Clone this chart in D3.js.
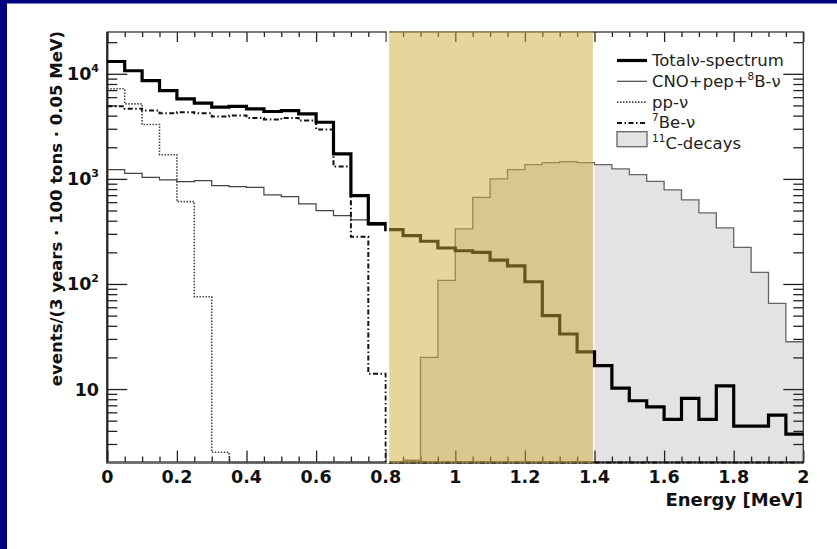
<!DOCTYPE html>
<html>
<head>
<meta charset="utf-8">
<script src="https://cdn.jsdelivr.net/npm/d3@7"></script>
<style>
  body { margin: 0; background: #fff; }
  svg { display: block; }
</style>
</head>
<body>
<div id="chart"></div>
<script>
// 40 bins of 0.05 MeV, 0 .. 2 MeV
const binWidth = 0.05;
const totalSpectrum = [13100, 10700, 8630, 6930, 5780, 5250, 4810, 4900, 4640, 4380,
                       4470, 4160, 3460, 1730, 693, 375, 329, 288, 255, 220,
                       207, 200, 169, 149, 105, 49.9, 33.4, 22.6, 16.7, 10.2,
                       7.74, 6.78, 5.14, 8.15, 5.14, 10.7, 4.44, 4.44, 5.65, 3.72];
const cnoPepB8 = [1227, 1130, 1035, 977, 942, 963, 863, 845, 832, 704,
                  678, 578, 499, 447, 407, 362, 329, 288, 255, 220,
                  207, 200, 169, 149, 105, 49.9, 33.4, 22.6, 16.7, 10.2,
                  7.74, 6.78, 5.14, 8.15, 5.14, 10.7, 4.44, 4.44, 5.65, 3.72];
const ppNu = [7200, 5180, 3290, 1700, 608, 75.7, 2.5, 0, 0, 0,
              0, 0, 0, 0, 0, 0, 0, 0, 0, 0,
              0, 0, 0, 0, 0, 0, 0, 0, 0, 0,
              0, 0, 0, 0, 0, 0, 0, 0, 0, 0];
const be7Nu = [4910, 4640, 4470, 4210, 4310, 4210, 3920, 4010, 3800, 3670,
               3800, 3590, 2950, 1310, 282, 14, 0, 0, 0, 0,
               0, 0, 0, 0, 0, 0, 0, 0, 0, 0,
               0, 0, 0, 0, 0, 0, 0, 0, 0, 0];
const c11Decays = [0, 0, 0, 0, 0, 0, 0, 0, 0, 0,
                   0, 0, 0, 0, 0, 0, 0, 2.1, 20, 108,
                   334, 668, 1000, 1227, 1370, 1430, 1460, 1430, 1370, 1245,
                   1100, 949, 785, 631, 475, 342, 223, 129, 65.3, 28.2];

const xTicks = [0, 0.2, 0.4, 0.6, 0.8, 1, 1.2, 1.4, 1.6, 1.8, 2];
const xTickLabels = ["0", "0.2", "0.4", "0.6", "0.8", "1", "1.2", "1.4", "1.6", "1.8", "2"];
const yTicks = [10, 100, 1000, 10000];
const yTickBase = ["10", "10", "10", "10"];
const yTickExp = ["", "2", "3", "4"];
const legendNames = [
  [["Totalν-spectrum", ""]],
  [["CNO+pep+", ""], ["8", "sup"], ["B-ν", ""]],
  [["pp-ν", ""]],
  [["7", "sup"], ["Be-ν", ""]],
  [["11", "sup"], ["C-decays", ""]]
];
const windowRange = [0.81, 1.4];   // shaded energy window

const width = 837, height = 549;
const plotLeft = 107.3, plotRight = 803.3, plotTop = 32, plotBottom = 462.5;

const svg = d3.select("#chart").append("svg")
    .attr("width", width)
    .attr("height", height);

svg.append("rect").attr("width", width).attr("height", height).attr("fill", "#fff");
svg.append("rect").attr("width", 7).attr("height", height).attr("fill", "#000080");
svg.append("rect").attr("width", width).attr("height", 3.5).attr("fill", "#000080");

const x = d3.scaleLinear().domain([0, 2]).range([plotLeft, plotRight]);
const y = d3.scaleLog().domain([2, 25000]).range([plotBottom, plotTop]);
const yv = v => y(Math.max(v, 2));

// step outline of a histogram
function stepPoints(vals) {
  const pts = [];
  vals.forEach((v, i) => {
    pts.push([x(i * binWidth), yv(v)]);
    pts.push([x((i + 1) * binWidth), yv(v)]);
  });
  return pts;
}
const line = d3.line();

// 11C filled area
const c11Pts = stepPoints(c11Decays);
svg.append("path")
    .attr("d", line([[x(0), plotBottom], ...c11Pts, [x(2), plotBottom]]) + "Z")
    .attr("fill", "#e3e3e3")
    .attr("stroke", "none");

// thin white line at the window edge
svg.append("line")
    .attr("x1", x(windowRange[1]) - 0.8).attr("x2", x(windowRange[1]) - 0.8)
    .attr("y1", plotTop).attr("y2", plotBottom)
    .attr("stroke", "#fff").attr("stroke-width", 1.5);

// axes ticks (no labels)
const xMinor = d3.range(0, 2.0001, 0.05).filter(v => Math.abs(v / 0.2 - Math.round(v / 0.2)) > 1e-6);
const yMinor = [];
[1, 10, 100, 1000, 10000].forEach(d => d3.range(2, 10).forEach(m => {
  const v = m * d;
  if (v > 2 && v < 25000 && !yTicks.includes(v)) yMinor.push(v);
}));

function tickGroup(axis, tx, ty) {
  const g = svg.append("g").attr("transform", `translate(${tx},${ty})`).call(axis);
  g.select(".domain").remove();
  g.selectAll("line").attr("stroke", "#222").attr("stroke-width", 1.3);
  return g;
}
tickGroup(d3.axisBottom(x).tickValues(xTicks).tickSize(-12).tickFormat(""), 0, plotBottom);
tickGroup(d3.axisBottom(x).tickValues(xMinor).tickSize(-6).tickFormat(""), 0, plotBottom);
tickGroup(d3.axisTop(x).tickValues(xTicks).tickSize(-10).tickFormat(""), 0, plotTop);
tickGroup(d3.axisTop(x).tickValues(xMinor).tickSize(-5).tickFormat(""), 0, plotTop);
tickGroup(d3.axisLeft(y).tickValues(yTicks).tickSize(-20).tickFormat(""), plotLeft, 0);
tickGroup(d3.axisLeft(y).tickValues(yMinor).tickSize(-10).tickFormat(""), plotLeft, 0);
tickGroup(d3.axisRight(y).tickValues(yTicks).tickSize(-20).tickFormat(""), plotRight, 0);
tickGroup(d3.axisRight(y).tickValues(yMinor).tickSize(-10).tickFormat(""), plotRight, 0);

// frame
svg.append("rect")
    .attr("x", plotLeft).attr("y", plotTop)
    .attr("width", plotRight - plotLeft).attr("height", plotBottom - plotTop)
    .attr("fill", "none").attr("stroke", "#333").attr("stroke-width", 1.3);
svg.append("path")
    .attr("d", `M${plotLeft},${plotTop}V${plotBottom}H${plotRight}`)
    .attr("fill", "none").attr("stroke", "#222").attr("stroke-width", 2.2);

// histogram outlines
const series = [
  { vals: c11Decays, stroke: "#666", w: 1.3, dash: null },
  { vals: cnoPepB8, stroke: "#444", w: 1.2, dash: null },
  { vals: ppNu, stroke: "#444", w: 1.6, dash: "1.5,1.5" },
  { vals: be7Nu, stroke: "#111", w: 2, dash: "5,2.5,1.5,2.5" },
  { vals: totalSpectrum, stroke: "#000", w: 3.2, dash: null }
];
series.forEach(s => {
  svg.append("path")
      .attr("d", line(stepPoints(s.vals)))
      .attr("fill", "none")
      .attr("stroke", s.stroke)
      .attr("stroke-width", s.w)
      .attr("stroke-dasharray", s.dash)
      .attr("stroke-linejoin", "miter");
});

// white gap + tan energy window overlay
svg.append("rect")
    .attr("x", x(0.8) + 1).attr("y", plotTop - 1)
    .attr("width", x(windowRange[0]) - x(0.8) - 1).attr("height", plotBottom - plotTop + 2)
    .attr("fill", "#fff");
svg.append("rect")
    .attr("x", x(windowRange[0])).attr("y", plotTop - 0.5)
    .attr("width", x(windowRange[1]) - 1.6 - x(windowRange[0])).attr("height", plotBottom - plotTop + 1)
    .attr("fill", "rgb(209,171,55)").attr("fill-opacity", 0.5);

// tick labels
const tickFont = "'DejaVu Sans', sans-serif";
svg.append("g").selectAll("text")
  .data(xTicks)
  .join("text")
    .attr("x", d => x(d))
    .attr("y", 483)
    .attr("text-anchor", "middle")
    .attr("font-family", tickFont)
    .attr("font-weight", "bold")
    .attr("font-size", 17.5)
    .attr("fill", "#111")
    .text((d, i) => xTickLabels[i]);

const yl = svg.append("g").selectAll("text")
  .data(yTicks)
  .join("text")
    .attr("x", 99)
    .attr("y", d => y(d) + 6.5)
    .attr("text-anchor", "end")
    .attr("font-family", tickFont)
    .attr("font-weight", "bold")
    .attr("font-size", 17.5)
    .attr("fill", "#111");
yl.append("tspan").text((d, i) => yTickBase[i]);
yl.append("tspan")
    .attr("font-size", 11)
    .attr("dy", -8)
    .text((d, i) => yTickExp[i]);

// axis titles
svg.append("text")
    .attr("x", 803).attr("y", 506)
    .attr("text-anchor", "end")
    .attr("font-family", tickFont)
    .attr("font-weight", "bold")
    .attr("font-size", 18)
    .attr("fill", "#111")
    .text("Energy [MeV]");
svg.append("text")
    .attr("transform", "translate(62,208.5) rotate(-90)")
    .attr("text-anchor", "middle")
    .attr("font-family", tickFont)
    .attr("font-weight", "bold")
    .attr("font-size", 16.5)
    .attr("fill", "#111")
    .text("events/(3 years · 100 tons · 0.05 MeV)");

// legend
const legX = 617, legW = 30, textX = 652, base0 = 66, step = 20.8;
const leg = svg.append("g");
legendNames.forEach((parts, i) => {
  const by = base0 + i * step;
  if (i < 4) {
    const s = series[[4, 1, 2, 3][i]];
    leg.append("line")
        .attr("x1", legX).attr("x2", legX + legW)
        .attr("y1", by - 5.5).attr("y2", by - 5.5)
        .attr("stroke", s.stroke)
        .attr("stroke-width", s.w)
        .attr("stroke-dasharray", s.dash);
  } else {
    leg.append("rect")
        .attr("x", legX).attr("y", by - 17.5)
        .attr("width", legW).attr("height", 15)
        .attr("fill", "#e3e3e3").attr("stroke", "#666").attr("stroke-width", 1.3);
  }
  const t = leg.append("text")
      .attr("x", textX).attr("y", by)
      .attr("font-family", tickFont)
      .attr("font-size", 16.5)
      .attr("fill", "#222");
  let raised = false;
  parts.forEach(([txt, kind]) => {
    const sp = t.append("tspan").text(txt);
    if (kind === "sup") {
      sp.attr("font-size", 10.5).attr("dy", -7);
      raised = true;
    } else if (raised) {
      sp.attr("dy", 7);
      raised = false;
    }
  });
});
</script>
</body>
</html>
